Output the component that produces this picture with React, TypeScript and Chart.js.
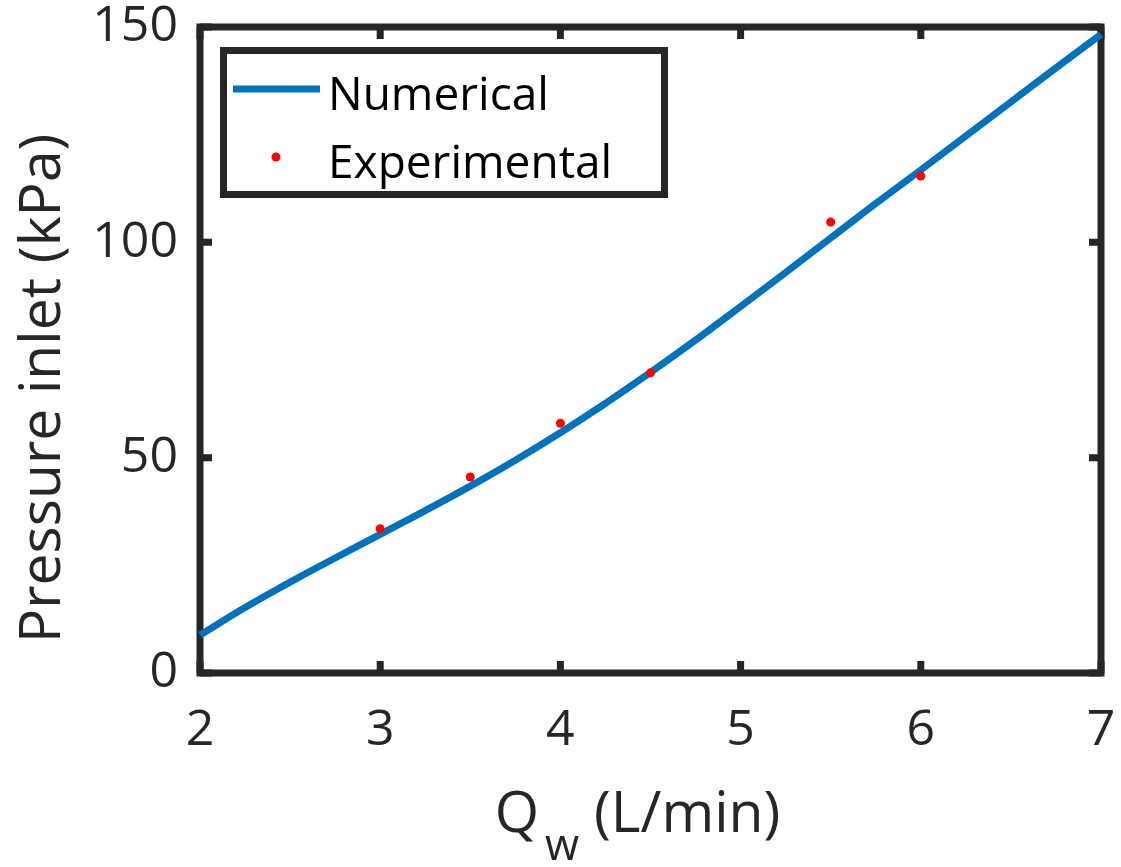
import React, { useEffect, useRef } from "react";
import { Chart, registerables } from "chart.js";

Chart.register(...registerables);

// ---- data ----
const curveX = [2, 2.25, 2.5, 2.75, 3, 3.25, 3.5, 3.75, 4, 4.25, 4.5, 4.75, 5, 5.25, 5.5, 5.75, 6, 6.25, 6.5, 6.75, 7];
const curveY = [8.8, 15.2, 21.1, 26.7, 32.2, 37.7, 43.4, 49.4, 55.8, 62.6, 69.8, 77.3, 85.1, 93.0, 101.0, 109.0, 116.8, 124.7, 132.6, 140.5, 148.3];
const expX = [3, 3.5, 4, 4.5, 5.5, 6];
const expY = [33.5, 45.5, 58.0, 69.7, 104.7, 115.4];
const xTickValues = [2, 3, 4, 5, 6, 7];
const yTickValues = [0, 50, 100, 150];
const seriesLabels = ["Numerical", "Experimental"];
const xTitleMain = "Q";
const xTitleSub = "w";
const xTitleRest = " (L/min)";
const yTitle = "Pressure inlet (kPa)";

const FONT = "'Open Sans', 'Noto Sans', sans-serif";
const AXIS_COLOR = "#262626";

const framePlugin = {
  id: "frame",
  beforeDatasetsDraw(chart: any) {
    const { ctx, chartArea, scales } = chart;
    const { left, right, top, bottom } = chartArea;
    ctx.save();
    ctx.strokeStyle = AXIS_COLOR;
    ctx.lineWidth = 7;
    ctx.lineCap = "butt";
    ctx.lineJoin = "miter";
    const tl = 12;
    ctx.beginPath();
    xTickValues.forEach((v) => {
      const px = scales.x.getPixelForValue(v);
      ctx.moveTo(px, bottom);
      ctx.lineTo(px, bottom - tl);
      ctx.moveTo(px, top);
      ctx.lineTo(px, top + tl);
    });
    yTickValues.forEach((v) => {
      const py = scales.y.getPixelForValue(v);
      ctx.moveTo(left, py);
      ctx.lineTo(left + tl, py);
      ctx.moveTo(right, py);
      ctx.lineTo(right - tl, py);
    });
    ctx.stroke();
    ctx.strokeRect(left, top, right - left, bottom - top);
    ctx.restore();
  },
  afterDatasetsDraw(chart: any) {
    const { ctx, chartArea } = chart;
    const { left, top, right, bottom } = chartArea;
    // legend
    const bx = left + 23.5;
    const by = top + 23.5;
    const bw = 441;
    const bh = 144;
    ctx.save();
    ctx.fillStyle = "#ffffff";
    ctx.fillRect(bx, by, bw, bh);
    ctx.strokeStyle = AXIS_COLOR;
    ctx.lineWidth = 7;
    ctx.strokeRect(bx, by, bw, bh);
    const ds0 = chart.data.datasets[0];
    const ds1 = chart.data.datasets[1];
    ctx.strokeStyle = ds0.borderColor;
    ctx.lineWidth = 7;
    ctx.beginPath();
    ctx.moveTo(bx + 9.5, by + 38.5);
    ctx.lineTo(bx + 96.5, by + 38.5);
    ctx.stroke();
    ctx.fillStyle = ds1.backgroundColor;
    ctx.beginPath();
    ctx.arc(bx + 52.5, by + 106.5, 4.5, 0, Math.PI * 2);
    ctx.fill();
    ctx.fillStyle = "#000000";
    ctx.font = `46px ${FONT}`;
    ctx.textAlign = "left";
    ctx.textBaseline = "alphabetic";
    ctx.fillText(ds0.label, bx + 104.5, by + 59.5);
    ctx.fillText(ds1.label, bx + 104.5, by + 127.5);
    ctx.restore();

    // axis titles
    ctx.save();
    ctx.fillStyle = AXIS_COLOR;
    ctx.textBaseline = "alphabetic";
    ctx.textAlign = "left";
    const mainFont = `57px ${FONT}`;
    const subFont = `44px ${FONT}`;
    ctx.font = mainFont;
    const wQ = ctx.measureText(xTitleMain).width;
    const wRest = ctx.measureText(xTitleRest).width;
    ctx.font = subFont;
    const wSub = ctx.measureText(xTitleSub).width;
    const total = wQ + 6 + wSub + wRest;
    const cx = (left + right) / 2 - 13;
    let x0 = cx - total / 2;
    const base = bottom + 159;
    ctx.font = mainFont;
    ctx.fillText(xTitleMain, x0, base);
    x0 += wQ + 6;
    ctx.font = subFont;
    ctx.fillText(xTitleSub, x0, base + 28);
    x0 += wSub;
    ctx.font = mainFont;
    ctx.fillText(xTitleRest, x0, base);

    ctx.translate(left - 140, bottom - 30);
    ctx.rotate(-Math.PI / 2);
    ctx.fillText(yTitle, 0, 0);
    ctx.restore();
  },
};

function fixAxis(size: number, vertical: boolean) {
  return (scale: any) => {
    if (vertical) scale.width = size;
    else scale.height = size;
    scale.paddingTop = 0;
    scale.paddingBottom = 0;
    scale.paddingLeft = 0;
    scale.paddingRight = 0;
  };
}

export default function App() {
  const ref = useRef<HTMLCanvasElement | null>(null);
  useEffect(() => {
    if (!ref.current) return;
    const chart = new Chart(ref.current, {
      type: "line",
      data: {
        datasets: [
          {
            label: seriesLabels[0],
            data: curveX.map((x, i) => ({ x, y: curveY[i] })),
            borderColor: "#0072BD",
            backgroundColor: "#0072BD",
            borderWidth: 7,
            pointRadius: 0,
            tension: 0.5,
            clip: false as any,
            order: 2,
          },
          {
            label: seriesLabels[1],
            data: expX.map((x, i) => ({ x, y: expY[i] })),
            showLine: false,
            borderColor: "#FF0000",
            backgroundColor: "#FF0000",
            pointRadius: 4.5,
            pointBorderWidth: 0,
            order: 1,
          },
        ],
      },
      options: {
        animation: false,
        responsive: false,
        layout: { padding: { left: 0, top: 27, right: 20, bottom: 0 } },
        plugins: { legend: { display: false }, tooltip: { enabled: false } },
        scales: {
          x: {
            type: "linear",
            min: 2,
            max: 7,
            grid: { display: false, drawTicks: false },
            border: { display: false },
            afterBuildTicks: (s: any) => {
              s.ticks = xTickValues.map((v) => ({ value: v }));
            },
            afterFit: fixAxis(194, false),
            ticks: {
              padding: 28,
              color: AXIS_COLOR,
              font: { family: FONT, size: 50 },
              maxRotation: 0,
            },
          },
          y: {
            type: "linear",
            min: 0,
            max: 150,
            grid: { display: false, drawTicks: false },
            border: { display: false },
            afterBuildTicks: (s: any) => {
              s.ticks = yTickValues.map((v) => ({ value: v }));
            },
            afterFit: fixAxis(200, true),
            ticks: {
              padding: 22,
              color: AXIS_COLOR,
              font: { family: FONT, size: 50 },
            },
          },
        },
      },
      plugins: [framePlugin],
    });
    return () => chart.destroy();
  }, []);
  return (
    <div style={{ position: "absolute", left: 0, top: 0, width: 1121, height: 867, background: "#fff" }}>
      <canvas ref={ref} width={1121} height={867} style={{ width: 1121, height: 867, display: "block" }} />
    </div>
  );
}
